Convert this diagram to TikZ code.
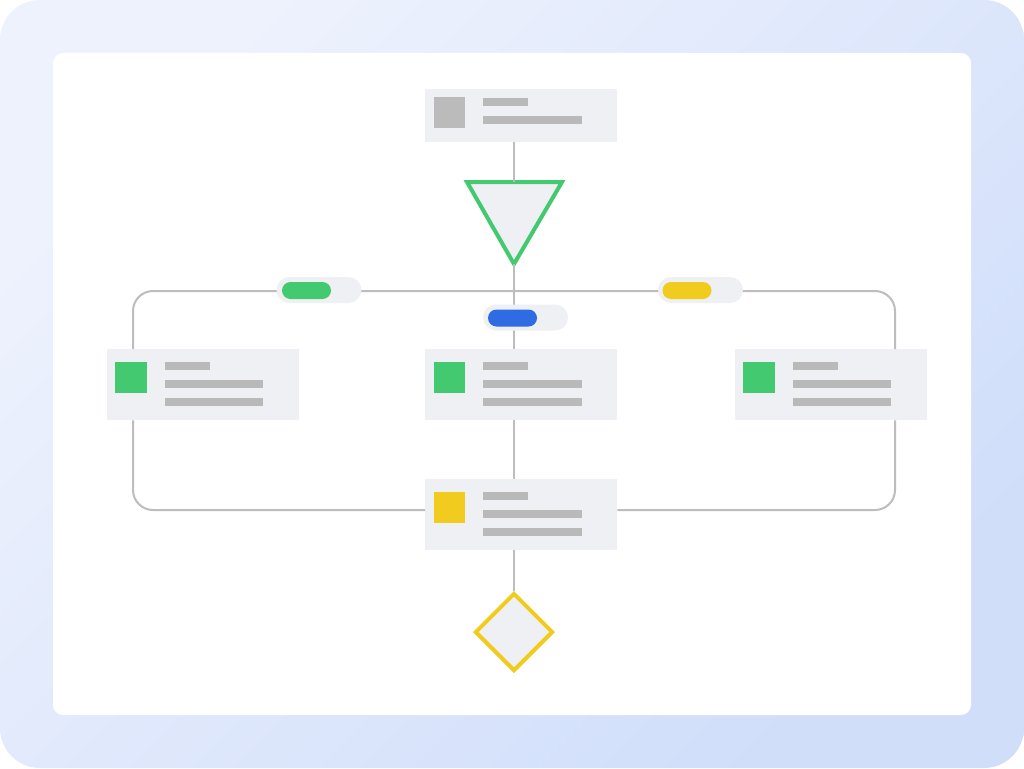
\documentclass[tikz,border=0pt]{standalone}
\usetikzlibrary{shapes.geometric}
\definecolor{bgA}{HTML}{EEF2FD}
\definecolor{bgB}{HTML}{D0DEFA}
\definecolor{boxfill}{HTML}{EFF0F4}
\definecolor{bar}{HTML}{B9B9B9}
\definecolor{wire}{HTML}{BDBDBD}
\definecolor{gr}{HTML}{43C970}
\definecolor{bl}{HTML}{2F6BE3}
\definecolor{ye}{HTML}{F2CB1F}
\definecolor{sq}{HTML}{BBBBBB}
\tikzset{
  card/.style={fill=boxfill, draw=none, inner sep=0pt, minimum width=192pt, anchor=north west},
  barshape/.style={fill=bar, draw=none},
  wireline/.style={draw=wire, line width=2pt},
  pillbg/.style={fill=boxfill, draw=none, rounded corners=13pt, minimum width=85pt, minimum height=26pt, inner sep=0pt},
  pillin/.style={draw=none, rounded corners=8.5pt, minimum width=49pt, minimum height=17pt, inner sep=0pt},
}
\begin{document}
\begin{tikzpicture}[x=1pt,y=-1pt]
\useasboundingbox (0,0) rectangle (1024,768);
% background
\shade[rounded corners=40pt, top color=bgA, bottom color=bgB, shading angle=45] (0,0) rectangle (1024,768);
\fill[white, rounded corners=10pt] (53,53) rectangle (971,715);

% boxes
\node[card, minimum height=53pt] (top) at (425,89) {};
\node[card, minimum height=71pt] (left) at (107,349) {};
\node[card, minimum height=71pt] (mid) at (425,349) {};
\node[card, minimum height=71pt] (right) at (735,349) {};
\node[card, minimum height=71pt] (bot) at (425,479) {};

% triangle
\coordinate (tritop) at (514,182);
\coordinate (triapex) at (514,264);
\draw[draw=gr, fill=boxfill, line width=4pt, line join=miter] (467,182) -- (562,182) -- (triapex) -- cycle;

% diamond
\node[diamond, draw=ye, fill=boxfill, line width=4pt, minimum width=78pt, minimum height=78pt, inner sep=0pt] (dia) at (514,632) {};

% connectors
\draw[wireline] (tritop |- top.south) -- (tritop);
\draw[wireline] (triapex) -- (triapex |- mid.north);
\draw[wireline] (triapex |- mid.south) -- (triapex |- bot.north);
\draw[wireline] (triapex |- bot.south) -- (dia.north);
\draw[wireline, rounded corners=20pt] (left.north -| 133,0) -- (133,291) -- (895,291) -- (right.north -| 895,0);
\draw[wireline, rounded corners=20pt] (left.south -| 133,0) -- (133,510) -- (bot.west |- 0,510);
\draw[wireline, rounded corners=20pt] (right.south -| 895,0) -- (895,510) -- (bot.east |- 0,510);

% pills
\node[pillbg] (p1) at (319,290) {};
\node[pillin, fill=gr] (p1i) at (306.5,290.5) {};
\node[pillbg] (p2) at (525.5,317.5) {};
\node[pillin, fill=bl] (p2i) at (512.5,318) {};
\node[pillbg] (p3) at (700.5,290) {};
\node[pillin, fill=ye] (p3i) at (687,290.5) {};

% box contents
\fill[sq] (434,97) rectangle (465,128);
\fill[barshape] (483,98) rectangle (528,106);
\fill[barshape] (483,116) rectangle (582,124);

\fill[gr] (115,362) rectangle (147,393);
\fill[barshape] (165,362) rectangle (210,370);
\fill[barshape] (165,380) rectangle (263,388);
\fill[barshape] (165,398) rectangle (263,406);

\fill[gr] (434,362) rectangle (465,393);
\fill[barshape] (483,362) rectangle (528,370);
\fill[barshape] (483,380) rectangle (582,388);
\fill[barshape] (483,398) rectangle (582,406);

\fill[gr] (743,362) rectangle (775,393);
\fill[barshape] (793,362) rectangle (838,370);
\fill[barshape] (793,380) rectangle (891,388);
\fill[barshape] (793,398) rectangle (891,406);

\fill[ye] (434,492) rectangle (465,523);
\fill[barshape] (483,492) rectangle (528,500);
\fill[barshape] (483,510) rectangle (582,518);
\fill[barshape] (483,528) rectangle (582,536);
\end{tikzpicture}
\end{document}
